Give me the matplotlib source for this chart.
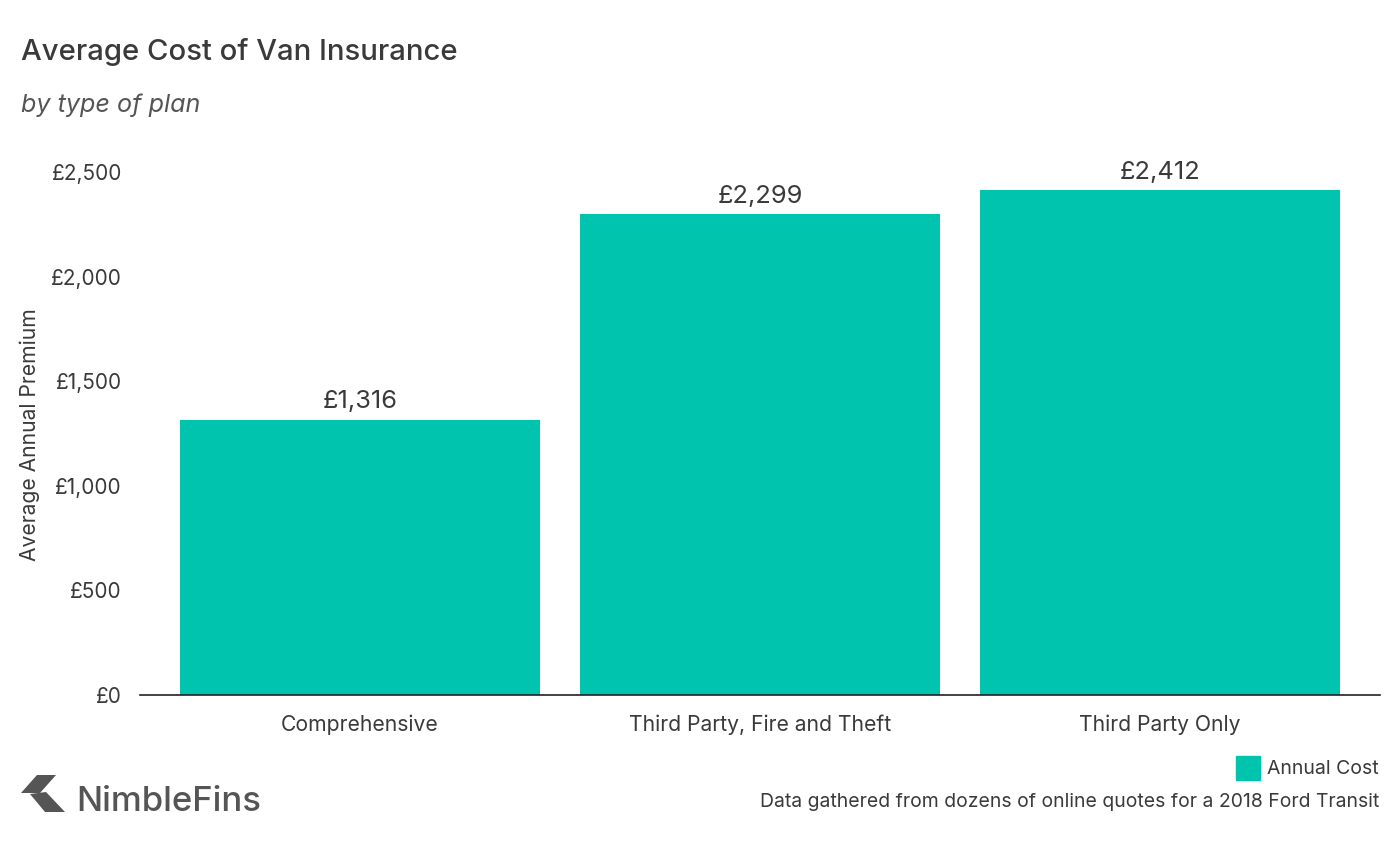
from matplotlib import pyplot as plt
from matplotlib.patches import Polygon, Rectangle

plt.rcParams['font.family'] = ['Inter', 'DejaVu Sans']

categories = ["Comprehensive", "Third Party, Fire and Theft", "Third Party Only"]
annual_cost = [1316, 2299, 2412]
bar_labels = ["£1,316", "£2,299", "£2,412"]
y_ticks = [0, 500, 1000, 1500, 2000, 2500]
y_tick_labels = ["£0", "£500", "£1,000", "£1,500", "£2,000", "£2,500"]

W, H = 1400, 842
dark = "#3a3a3a"
teal = "#00c4ae"

fig = plt.figure(figsize=(W / 100, H / 100), dpi=100, facecolor="white")
# plot area in pixels: x 140-1380, baseline y 695, £2,500 at y 172
ax = fig.add_axes([140 / W, 1 - 695 / H, 1240 / W, (695 - 172) / H])

x = range(len(categories))
ax.bar(x, annual_cost, width=0.9, color=teal)
ax.set_xlim(-0.55, 2.55)
ax.set_ylim(0, 2500)
ax.set_xticks(list(x))
ax.set_xticklabels(categories, fontsize=15.2, color=dark)
ax.set_yticks(y_ticks)
ax.set_yticklabels(y_tick_labels, fontsize=15, color=dark)
ax.tick_params(axis="both", length=0)
ax.tick_params(axis="x", pad=14)
ax.tick_params(axis="y", pad=13)
for side in ["top", "right", "left"]:
    ax.spines[side].set_visible(False)
ax.spines["bottom"].set_color("#222222")
ax.spines["bottom"].set_linewidth(1.2)

for xi, v, lab in zip(x, annual_cost, bar_labels):
    ax.annotate(lab, (xi, v), xytext=(0, 4.5), textcoords="offset points",
                ha="center", va="bottom", fontsize=18.3, color=dark, annotation_clip=False)

fig.text(30 / W, 1 - 434.5 / H, "Average Annual Premium", rotation=90, fontsize=15.2,
         color=dark, ha="center", va="center")
fig.text(21 / W, 1 - 52 / H, "Average Cost of Van Insurance", fontsize=21.1, weight="medium",
         color=dark, ha="left", va="center")
fig.text(21 / W, 1 - 105 / H, "by type of plan", fontsize=18.1, style="italic",
         color="#555555", ha="left", va="center")

# legend and source note
fig.add_artist(Rectangle((1236 / W, 1 - 780 / H), 24 / W, 24 / H, color=teal,
                         transform=fig.transFigure))
fig.text(1379 / W, 1 - 769 / H, "Annual Cost", fontsize=14, color=dark, ha="right", va="center")
fig.text(1379 / W, 1 - 802 / H, "Data gathered from dozens of online quotes for a 2018 Ford Transit",
         fontsize=13.95, color=dark, ha="right", va="center")

# logo
logo_top = [(21, 793), (37, 775), (56, 775), (40, 793)]
logo_bot = [(30, 794), (45, 812), (65, 812), (46, 792)]
for pts in (logo_top, logo_bot):
    fig.add_artist(Polygon([(px / W, 1 - py / H) for px, py in pts], closed=True,
                           color="#555555", lw=0, transform=fig.transFigure))
fig.text(76 / W, 1 - 802 / H, "NimbleFins", fontsize=25, weight="medium", color="#555555",
         ha="left", va="center")

fig.savefig("out.png", dpi=100)
